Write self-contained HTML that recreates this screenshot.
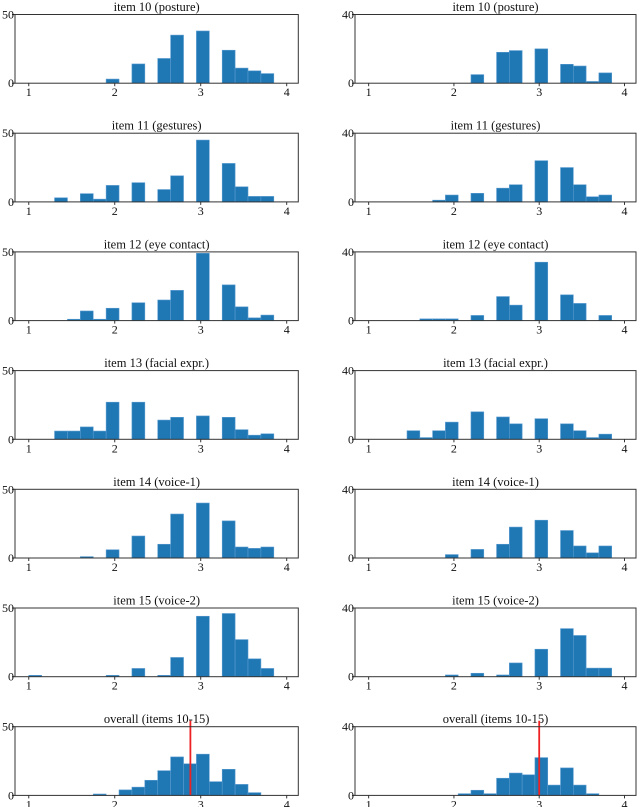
<!DOCTYPE html>
<html><head><meta charset="utf-8"><style>
html,body{margin:0;padding:0;background:#fff;}
svg{display:block;font-family:"Liberation Serif","DejaVu Serif",serif;}
</style></head><body>
<svg id="chart" width="640" height="807" viewBox="0 0 640 807"></svg>
<script>
const titles = ["item 10 (posture)","item 11 (gestures)","item 12 (eye contact)","item 13 (facial expr.)","item 14 (voice-1)","item 15 (voice-2)","overall (items 10-15)"];
const binStart = 1, binWidth = 0.15;
// counts per bin index (20 bins from 1 to 4)
const leftCounts = [
 [0,0,0,0,0,0,3,0,14,0,18,35,0,38,0,24,11,9,7,0],
 [0,0,3,0,6,2,12,0,14,0,9,19,0,45,0,28,11,4,4,0],
 [0,0,0,1,7,1,9,0,13,0,15,22,0,49,0,26,10,2,4,0],
 [0,0,6,6,9,6,27,0,27,0,14,16,0,17,0,16,7,3,4,0],
 [0,0,0,0,1,0,6,0,16,0,10,32,0,40,0,27,8,7,8,0],
 [1,0,0,0,0,0,1,0,6,0,1,14,0,44,0,46,27,13,6,0],
 [0,0,0,0,0,1,0,4,6,11,18,28,23,30,10,19,8,2,0,0]
];
const rightCounts = [
 [0,0,0,0,0,0,0,0,5,0,18,19,0,20,0,11,10,1,6,0],
 [0,0,0,0,0,1,4,0,5,0,8,10,0,24,0,20,10,3,4,0],
 [0,0,0,0,1,1,1,0,3,0,14,9,0,34,0,15,10,0,3,0],
 [0,0,0,5,1,5,10,0,16,0,13,9,0,12,0,9,5,1,3,0],
 [0,0,0,0,0,0,2,0,5,0,8,18,0,22,0,16,7,3,7,0],
 [0,0,0,0,0,0,1,0,2,0,1,8,0,16,0,28,24,5,5,0],
 [0,0,0,0,0,0,0,1,3,1,10,13,12,22,6,16,6,1,0,0]
];
const meanLines = [2.88, 3.0];
const yMaxes = [50, 40];
const xTicks = [1,2,3,4];
const xMin = 0.84, xMax = 4.135;

const svg = document.getElementById('chart');
const NS = 'http://www.w3.org/2000/svg';
function mk(tag, attrs, parent){
  const e = document.createElementNS(NS, tag);
  for (const k in attrs) e.setAttribute(k, attrs[k]);
  parent.appendChild(e); return e;
}
const cols = [{x0:15, x1:298.3}, {x0:355, x1:636}];
const rowTop0 = 14.5, rowStep = 118.7, axH = 68.7;

for (let c = 0; c < 2; c++) {
  const counts = c === 0 ? leftCounts : rightCounts;
  const ymax = yMaxes[c];
  for (let r = 0; r < 7; r++) {
    const top = rowTop0 + r*rowStep, bot = top + axH;
    const {x0, x1} = cols[c];
    const sx = v => x0 + (v - xMin) / (xMax - xMin) * (x1 - x0);
    const sy = v => bot - v / ymax * axH;
    const g = mk('g', {}, svg);
    
    
    const t = mk('text', {x:(x0+x1)/2, y: top-3.5, 'text-anchor':'middle', 'font-size':'12.5', fill:'#111'}, g);
    t.textContent = titles[r];
    
    
    counts[r].forEach((v, i) => {
      if (v <= 0) return;
      const a = binStart + i*binWidth, b = a + binWidth;
      const rect = mk('rect', {x: sx(a), y: sy(v), width: sx(b)-sx(a), height: bot - sy(v), fill:'#1f77b4', stroke:'#5a9bd0', 'stroke-width':'0.6'}, g);
      
      
    });
    if (r === 6) {
      const m = meanLines[c];
      const ln = mk('line', {x1: sx(m), x2: sx(m), y1: top-6, y2: bot, stroke:'#ee2222', 'stroke-width':'1.8'}, g);
      
      
    }
    const fr = mk('rect', {x:x0, y:top, width:x1-x0, height:axH, fill:'none', stroke:'#333', 'stroke-width':'1'}, g);
    
    
    [0, ymax].forEach(v => {
      mk('line', {x1:x0-3, x2:x0, y1:sy(v), y2:sy(v), stroke:'#333', 'stroke-width':'1'}, g);
      const yl = mk('text', {x:x0-1, y:sy(v)+4, 'text-anchor':'end', 'font-size':'12', fill:'#111'}, g);
      yl.textContent = v;
      
      
    });
    xTicks.forEach(v => {
      mk('line', {x1:sx(v), x2:sx(v), y1:bot, y2:bot+3, stroke:'#333', 'stroke-width':'1'}, g);
      const xl = mk('text', {x:sx(v), y:bot+13, 'text-anchor':'middle', 'font-size':'12', fill:'#111'}, g);
      xl.textContent = v;
      
      
    });
  }
}
</script>
</body></html>
